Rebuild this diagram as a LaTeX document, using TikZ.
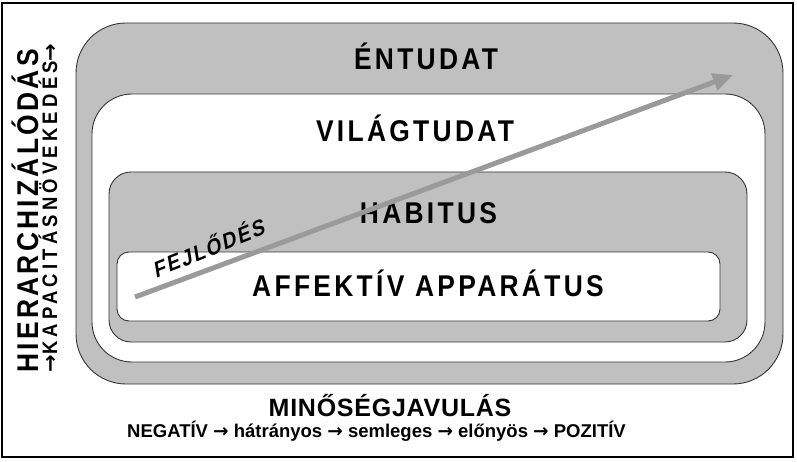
\documentclass[tikz,border=0pt]{standalone}
\usepackage{fontspec}
\setmainfont{Liberation Sans}
\newfontfamily\titlefont[LetterSpace=11, FakeStretch=0.88]{Liberation Sans}
\newfontfamily\sidefont[LetterSpace=20, FakeStretch=0.88]{Liberation Sans}
\newfontfamily\growfont[LetterSpace=9, FakeStretch=0.9, FakeSlant=0.22]{Liberation Sans}
\newfontfamily\bottomfont[LetterSpace=3]{Liberation Sans}
\newfontfamily\arrowfont{DejaVu Sans}
\newcommand{\rarr}{{\arrowfont\bfseries →}}
\usetikzlibrary{arrows.meta}
\definecolor{boxgray}{HTML}{C0C0C0}
\definecolor{edgegray}{HTML}{353535}
\definecolor{arrowgray}{HTML}{9A9A9A}
\begin{document}
\begin{tikzpicture}[x=1pt,y=-1pt,
  layerbox/.style={draw=edgegray, line width=0.9pt, inner sep=0pt, outer sep=0pt, rectangle},
  graylayer/.style={layerbox, fill=boxgray},
  whitelayer/.style={layerbox, fill=white},
  titletext/.style={font=\titlefont\bfseries\fontsize{30}{30}\selectfont, inner sep=0pt, anchor=base},
  sidetext/.style={font=\sidefont\bfseries\fontsize{21}{21}\selectfont, inner sep=0pt, anchor=base, rotate=90},
  bottomtitle/.style={font=\bottomfont\bfseries\fontsize{25}{25}\selectfont, inner sep=0pt, anchor=base},
  scaletext/.style={font=\bfseries\fontsize{18.5}{18.5}\selectfont, inner sep=0pt, anchor=base},
  growtext/.style={font=\growfont\bfseries\fontsize{22}{22}\selectfont, inner sep=0pt, anchor=base, rotate=22},
  growarrow/.style={draw=arrowgray, line width=5pt, -{Triangle[length=20pt,width=17pt]}}
]
\useasboundingbox (0,0) rectangle (797,462);
% outer frame
\node[draw=black, line width=1.2pt, minimum width=791pt, minimum height=454pt, inner sep=0pt] (frame) at (397.5,230) {};
% nested layers
\node[graylayer, rounded corners=50pt, minimum width=707pt, minimum height=361pt] (entudat) at (429.5,203.5) {};
\node[whitelayer, rounded corners=40pt, minimum width=673pt, minimum height=268pt] (vilag) at (428.5,228) {};
\node[graylayer, rounded corners=22pt, minimum width=638pt, minimum height=170pt] (habitus) at (428,257) {};
\node[whitelayer, rounded corners=12pt, minimum width=603pt, minimum height=69pt] (affektiv) at (418.5,286.5) {};
% layer titles
\node[titletext] (tEn) at (426,69.3) {ÉNTUDAT};
\node[titletext] (tVi) at (415,141.7) {VILÁGTUDAT};
\node[titletext] (tHa) at (428.5,223.3) {HABITUS};
\node[titletext] (tAf) at (428,296.7) {AFFEKTÍV APPARÁTUS};
% development arrow
\coordinate (arrStart) at (135,297);
\coordinate (arrEnd) at (733,75);
\draw[growarrow] (arrStart) -- (arrEnd);
\node[growtext] (tFej) at (211,256) {FEJLŐDÉS};
% side texts
\node[sidetext, font=\titlefont\bfseries\fontsize{30}{30}\selectfont] (tHier) at (38,211) {HIERARCHIZÁLÓDÁS};
\node[sidetext] (tKap) at (57,208) {\rarr KAPACITÁSNÖVEKEDÉS\rarr};
% bottom texts
\node[bottomtitle] (tMin) at (390,416.3) {MINŐSÉGJAVULÁS};
\node[scaletext] (tScale) at (376.5,437.3) {NEGATÍV \rarr{} hátrányos \rarr{} semleges \rarr{} előnyös \rarr{} POZITÍV};
\end{tikzpicture}
\end{document}
